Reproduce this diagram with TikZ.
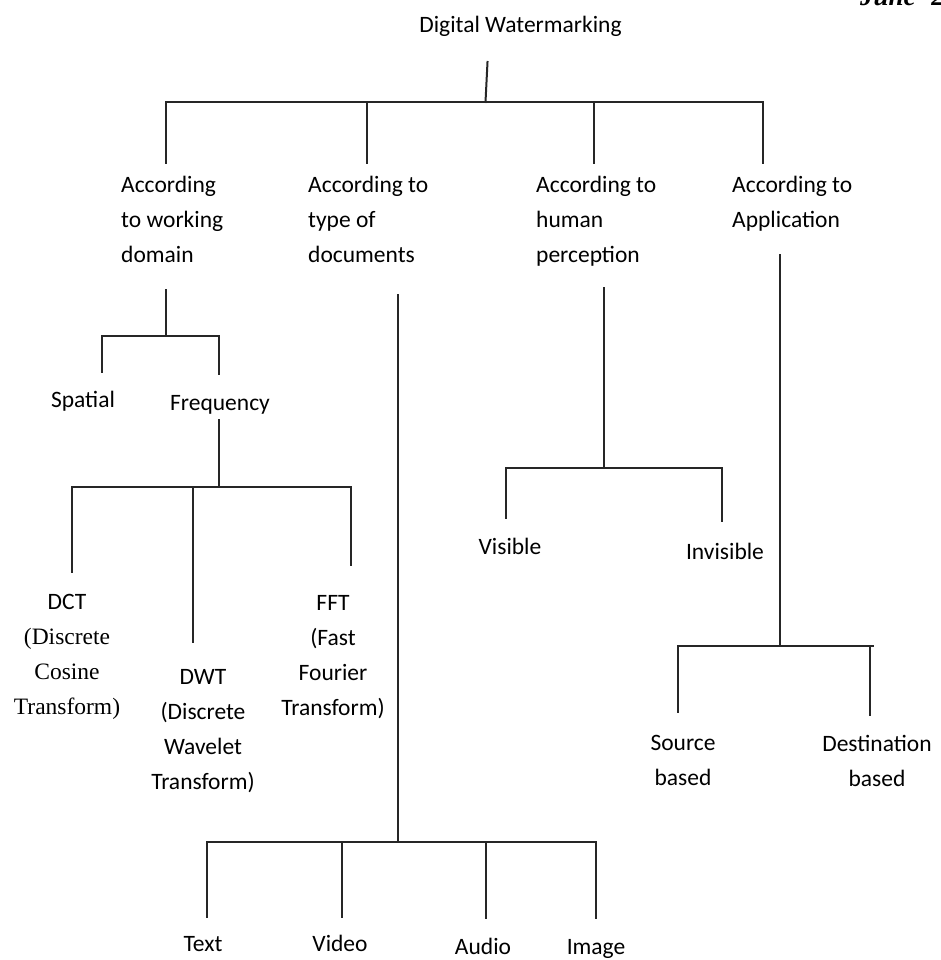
\documentclass[tikz,border=0pt]{standalone}
\usepackage{fontspec}
\setmainfont{Carlito}
\newfontfamily\tnr{Liberation Serif}
\begin{document}
\begin{tikzpicture}[x=1pt,y=-1pt,
  lbl/.style={inner sep=0pt, font=\fontsize{23.5}{35}\selectfont},
  conn/.style={line width=2pt, draw=black!85, line cap=rect},
]
\useasboundingbox (0,0) rectangle (941,960);
% header
\node[anchor=base west, inner sep=0pt, font=\fontsize{27}{30}\selectfont\tnr\bfseries\itshape] (date) at (860,6) {June- 2};
\node[lbl, anchor=base] (root) at (520.5,33) {Digital Watermarking};

% first level labels
\node[lbl, anchor=north west, align=left] (wd) at (121,176) {According\\to working\\domain};
\node[lbl, anchor=north west, align=left] (td) at (308,176) {According to\\type of\\documents};
\node[lbl, anchor=north west, align=left] (hp) at (536,176) {According to\\human\\perception};
\node[lbl, anchor=north west, align=left] (ap) at (732,176) {According to\\Application};

% working domain children
\node[lbl, anchor=base] (sp) at (83,407) {Spatial};
\node[lbl, anchor=base] (fr) at (220,410) {Frequency};
\node[lbl, anchor=north, align=center] (dct) at (67,594) {DCT\\{\tnr (Discrete}\\{\tnr Cosine}\\{\tnr Transform)}};
\node[lbl, anchor=north, align=center] (dwt) at (203,669) {DWT\\(Discrete\\Wavelet\\Transform)};
\node[lbl, anchor=north, align=center] (fft) at (333,595) {FFT\\(Fast\\Fourier\\Transform)};

% documents children
\node[lbl, anchor=base] (tx) at (203,951) {Text};
\node[lbl, anchor=base] (vd) at (340,951) {Video};
\node[lbl, anchor=base] (au) at (483,954) {Audio};
\node[lbl, anchor=base] (im) at (596,954) {Image};

% perception children
\node[lbl, anchor=base] (vi) at (510,554) {Visible};
\node[lbl, anchor=base] (iv) at (725,559) {Invisible};

% application children
\node[lbl, anchor=north, align=center] (so) at (683,735) {Source\\based};
\node[lbl, anchor=north, align=center] (de) at (877,735) {Destination\\based};

% ---- connector points ----
\coordinate (rt) at (487.5,62);
\coordinate (rb) at (485.5,102);
\coordinate (b1) at (166,102);
\coordinate (b2) at (367,102);
\coordinate (b3) at (594,102);
\coordinate (b4) at (763,102);
\coordinate (e1) at (166,163);
\coordinate (e2) at (367,163);
\coordinate (e3) at (594,163);
\coordinate (e4) at (763,163);

% working domain
\coordinate (w0) at (166,290);
\coordinate (w1) at (166,336);
\coordinate (wl) at (102,336);
\coordinate (wr) at (219,336);
\coordinate (wle) at (102,372);
\coordinate (wre) at (219,374);
% frequency
\coordinate (f0) at (219,420);
\coordinate (f1) at (219,487);
\coordinate (fl) at (72,487);
\coordinate (fm) at (193,487);
\coordinate (fr2) at (351,487);
\coordinate (fle) at (72,572);
\coordinate (fme) at (193,642);
\coordinate (fre) at (351,565);

% documents
\coordinate (d0) at (398,295);
\coordinate (d1) at (398,842);
\coordinate (dl) at (207,842);
\coordinate (d2) at (342,842);
\coordinate (d3) at (486,842);
\coordinate (dr) at (596,842);
\coordinate (dle) at (207,917);
\coordinate (d2e) at (342,917);
\coordinate (d3e) at (486,918);
\coordinate (dre) at (596,918);

% perception
\coordinate (h0) at (604,288);
\coordinate (h1) at (604,468);
\coordinate (hl) at (506,468);
\coordinate (hr) at (722,468);
\coordinate (hle) at (506,518);
\coordinate (hre) at (722,521);

% application
\coordinate (a0) at (780,255);
\coordinate (a1) at (780,646);
\coordinate (al) at (678,646);
\coordinate (ar) at (873,646);
\coordinate (ale) at (678,712);
\coordinate (are) at (870,715);
\coordinate (arb) at (870,646);

% ---- connectors ----
\draw[conn] (rt) -- (rb);
\draw[conn] (b1) -- (b4);
\draw[conn] (b1) -- (e1);
\draw[conn] (b2) -- (e2);
\draw[conn] (b3) -- (e3);
\draw[conn] (b4) -- (e4);

\draw[conn] (w0) -- (w1);
\draw[conn] (wl) -- (wr);
\draw[conn] (wl) -- (wle);
\draw[conn] (wr) -- (wre);

\draw[conn] (f0) -- (f1);
\draw[conn] (fl) -- (fr2);
\draw[conn] (fl) -- (fle);
\draw[conn] (fm) -- (fme);
\draw[conn] (fr2) -- (fre);

\draw[conn] (d0) -- (d1);
\draw[conn] (dl) -- (dr);
\draw[conn] (dl) -- (dle);
\draw[conn] (d2) -- (d2e);
\draw[conn] (d3) -- (d3e);
\draw[conn] (dr) -- (dre);

\draw[conn] (h0) -- (h1);
\draw[conn] (hl) -- (hr);
\draw[conn] (hl) -- (hle);
\draw[conn] (hr) -- (hre);

\draw[conn] (a0) -- (a1);
\draw[conn] (al) -- (ar);
\draw[conn] (al) -- (ale);
\draw[conn] (arb) -- (are);
\end{tikzpicture}
\end{document}
